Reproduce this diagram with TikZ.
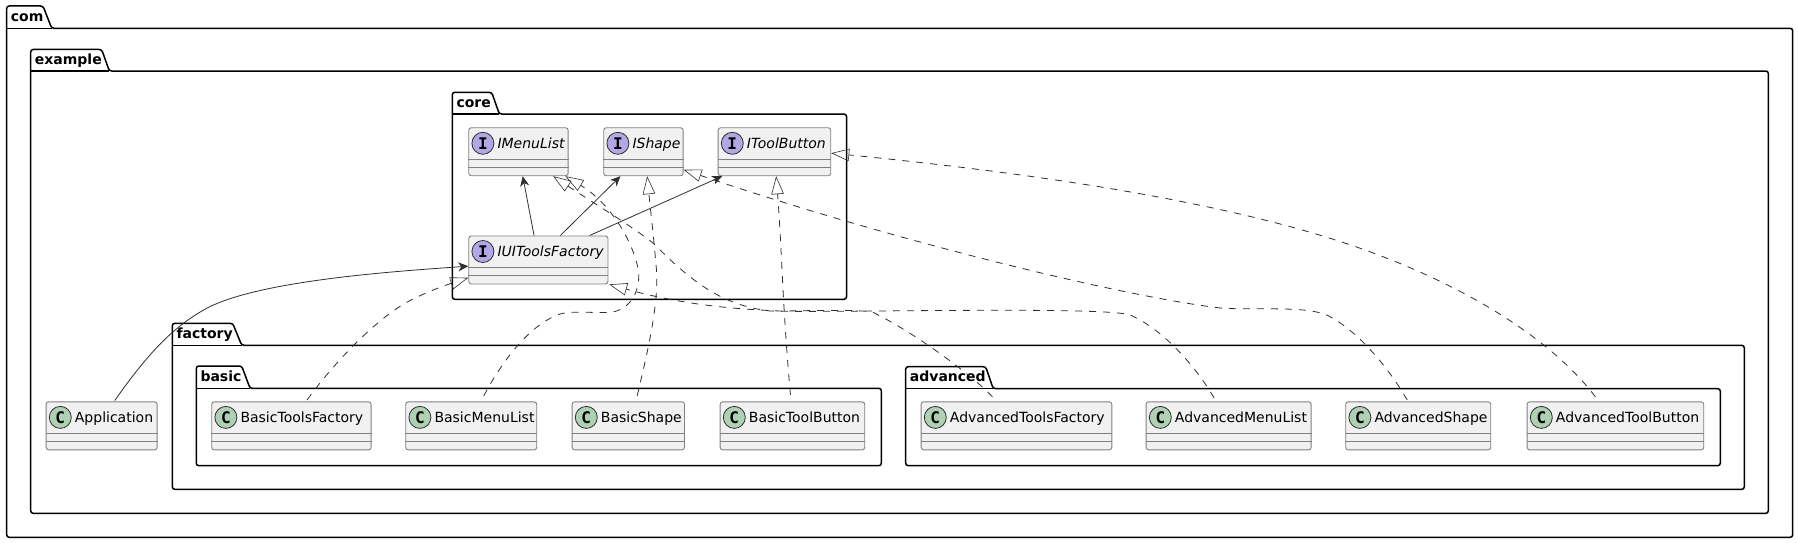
\documentclass[tikz,border=0pt]{standalone}
\usepackage{fontspec}
\setmainfont{DejaVu Sans}
\setmonofont{DejaVu Sans Mono}
\usetikzlibrary{arrows.meta}

\definecolor{boxfill}{HTML}{F1F1F1}
\definecolor{boxline}{HTML}{808080}
\definecolor{linkline}{HTML}{2E2E2E}
\definecolor{classbadge}{HTML}{ADD1B2}
\definecolor{ifacebadge}{HTML}{B4A7E5}

\begin{document}
\begin{tikzpicture}[x=1pt, y=-1pt]
  \tikzstyle{package}=[line width=1.5pt, black, rounded corners=2.5pt];
  \tikzstyle{pkgname}=[anchor=base west, inner sep=0, font=\fontsize{14}{16}\selectfont\bfseries];
  \tikzstyle{box}=[anchor=north west, rectangle, draw=boxline, line width=0.9pt, fill=boxfill, rounded corners=2.5pt, inner sep=0, minimum height=48pt];
  \tikzstyle{sepline}=[draw=boxline, line width=0.9pt];
  \tikzstyle{badge}=[circle, draw=linkline, line width=0.8pt, inner sep=0, minimum size=22pt, font=\fontsize{16}{16}\selectfont\ttfamily\bfseries];
  \tikzstyle{badgeC}=[badge, fill=classbadge];
  \tikzstyle{badgeI}=[badge, fill=ifacebadge];
  \tikzstyle{nameC}=[anchor=base west, inner sep=0, font=\fontsize{14}{16}\selectfont];
  \tikzstyle{nameI}=[nameC, font=\fontsize{14}{16}\selectfont\itshape];
  \tikzstyle{uses}=[draw=linkline, line width=0.8pt, -{Stealth[length=10pt, width=9pt, inset=3pt]}];
  \tikzstyle{impl}=[draw=linkline, line width=0.8pt, dash pattern=on 7pt off 7pt, -{Triangle[open, length=18pt, width=12.5pt, line width=0.6pt]}];

  \useasboundingbox (0, 0) rectangle (1798, 543);

  % packages
  \foreach \N/\Xa/\Ya/\Xt/\Xb/\Yb/\Xc/\Yc in {
    com/6.7/6/43/51.7/28.3/1792.7/537.3,
    example/30.7/49.5/101.7/109.3/71/1768.3/513.3,
    core/452.3/92.3/491.7/499.3/114/846.5/299.3,
    factory/172.3/323.3/232.7/241.7/345.3/1744.3/489.3,
    basic/196.3/366/241.7/250/388.3/881.3/465.7,
    advanced/905.7/366.7/985.7/993.2/388.7/1720.3/465.7} {
    \draw[package] (\Xa, \Yb) -- (\Xa, \Ya) -- (\Xt, \Ya) -- (\Xb, \Yb) -- (\Xc, \Yb) -- (\Xc, \Yc) -- (\Xa, \Yc) -- cycle;
    \draw[line width=1.5pt, black] (\Xa, \Yb) -- (\Xb, \Yb);
    \node[pkgname] (\N) at (\Xa+4, \Yb-7) {\N};
  }

  % classes and interfaces
  \foreach \N/\X/\Y/\W/\K in {
    Application/45.7/401.4/111/C,
    BasicToolsFactory/211.3/401.4/159.4/C,
    BasicMenuList/405.3/401.4/131/C,
    BasicShape/571.7/401.4/112.3/C,
    BasicToolButton/719.7/401.4/144.6/C,
    AdvancedToolsFactory/920.7/401.4/190.7/C,
    AdvancedMenuList/1145.7/401.4/165/C,
    AdvancedShape/1345.3/401.4/145/C,
    AdvancedToolButton/1526.7/401.4/176.6/C,
    IMenuList/468.3/127.3/99.4/I,
    IShape/603.3/127.3/79.4/I,
    IToolButton/717.7/127.3/112.6/I,
    IUIToolsFactory/468.3/235.5/139.2/I} {
    \node[box, minimum width=\W pt] (\N) at (\X, \Y) {};
    \draw[sepline] ([yshift=-32.4pt]\N.north west) -- ([yshift=-32.4pt]\N.north east);
    \draw[sepline] ([yshift=-40.4pt]\N.north west) -- ([yshift=-40.4pt]\N.north east);
    \node[badge\K] (\N-badge) at ([xshift=14.6pt, yshift=-16pt]\N.north west) {\K};
    \node[name\K] (\N-name) at ([xshift=29pt, yshift=-21pt]\N.north west) {\N};
  }

  \foreach \T/\Sx/\Tx in {IMenuList/-4.3/4.3, IShape/22/-23, IToolButton/51.3/-52.3} {
    \draw[uses] ([xshift=\Sx pt]IUIToolsFactory.north) -- ([xshift=\Tx pt]\T.south);
  }
  \draw[uses] ([xshift=13.1pt, yshift=0.8pt]Application.north)
    .. controls (150, 350) and (176, 325) .. (206.7, 308.3)
    .. controls (260, 280) and (400, 271) .. ([yshift=-6.2pt]IUIToolsFactory.west);

  \draw[impl] ([xshift=15.7pt, yshift=1.5pt]BasicToolsFactory.north)
    .. controls (330, 368) and (372, 322) .. (406.7, 302.3)
    .. controls (420, 295) and (440, 287) .. ([yshift=-17.8pt]IUIToolsFactory.west);
  \draw[impl] ([xshift=12.5pt, yshift=5.5pt]BasicMenuList.north)
    .. controls (500, 365) and (528, 325) .. (560, 314)
    .. controls (575, 310) and (600, 314) .. (613, 312)
    .. controls (635, 307) and (640, 285) .. (638.5, 272)
    .. controls (636, 250) and (615, 206) .. ([xshift=47pt]IMenuList.south);
  \draw[impl] ([xshift=8.85pt, yshift=5.5pt]BasicShape.north)
    .. controls (648, 350) and (660, 300) .. (656, 265)
    .. controls (654, 240) and (651, 215) .. ([xshift=3.7pt]IShape.south);
  \draw[impl] ([xshift=-2pt, yshift=6.5pt]BasicToolButton.north)
    .. controls (782, 300) and (782, 250) .. ([xshift=1.7pt]IToolButton.south);
  \draw[impl] ([xshift=-24pt, yshift=4.5pt]AdvancedToolsFactory.north)
    .. controls (972, 375) and (915, 333) .. (873, 312.3)
    .. controls (860, 309) and (800, 311) .. (780, 311)
    .. controls (730, 309) and (680, 304) .. ([xshift=0.7pt]IUIToolsFactory.south east);
  \draw[impl] ([xshift=-14.6pt, yshift=3.5pt]AdvancedMenuList.north)
    .. controls (1198, 370) and (1165, 330) .. (1130, 315)
    .. controls (1105, 306) and (830, 313) .. (770, 311)
    .. controls (720, 305) and (690, 280) .. (653, 243)
    .. controls (630, 225) and (595, 204) .. ([xshift=34.7pt]IMenuList.south);
  \draw[impl] ([xshift=-11.1pt, yshift=1.5pt]AdvancedShape.north)
    .. controls (1390, 370) and (1358, 330) .. (1326.7, 315)
    .. controls (1305, 306) and (1260, 310) .. (1223, 308.3)
    .. controls (1130, 298) and (900, 243) .. ([yshift=-18pt]IShape.east);
  \draw[impl] ([xshift=-20pt, yshift=4.5pt]AdvancedToolButton.north)
    .. controls (1560, 350) and (1490, 298) .. (1383, 256.7)
    .. controls (1250, 205) and (1050, 175) .. ([yshift=-1.4pt]IToolButton.east);
\end{tikzpicture}
\end{document}
